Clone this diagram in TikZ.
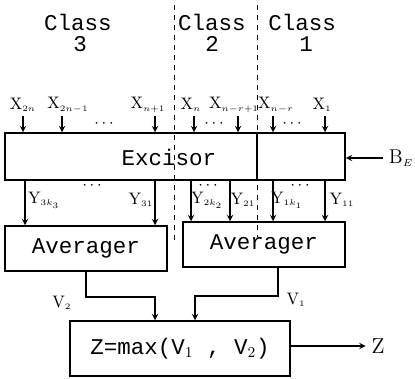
\documentclass[tikz,border=0pt]{standalone}
\usepackage{fontspec}
\setmonofont{Liberation Mono}
\usetikzlibrary{calc}

\begin{document}
\begin{tikzpicture}[x=0.6pt,y=-0.6pt,>=stealth]
\tikzset{
  box/.style={draw, line width=0.9pt, inner sep=0pt},
  word/.style={font=\ttfamily\fontsize{13.5}{14}\selectfont},
  sig/.style={font=\fontsize{10}{10}\selectfont, inner sep=1pt},
  dots/.style={font=\fontsize{10}{10}\selectfont, inner sep=0pt},
  wire/.style={line width=0.7pt},
  cut/.style={dashed, line width=0.6pt}
}
\useasboundingbox (0,0) rectangle (415,379);

% class headings
\node[word] (cls3) at (78,22) {Class};
\node[word] (num3) at (80,44) {3};
\node[word] (cls2) at (212,22) {Class};
\node[word] (num2) at (212,44) {2};
\node[word] (cls1) at (302,22) {Class};
\node[word] (num1) at (306,44) {1};

% boxes
\node[box, minimum width=204pt, minimum height=28.2pt] (exc) at (175,156.5) {};
\node[word] (exctxt) at (169,157) {Excisor};
\node[box, word, minimum width=97.2pt, minimum height=27pt] (avl) at (86,248.5) {Averager};
\node[box, word, minimum width=97.2pt, minimum height=27pt] (avr) at (264,244.5) {Averager};
\node[box, word, minimum width=132pt, minimum height=33pt] (mx) at (180,348.5) {Z=max(V$_1$ ,~V$_2$)};

% class borders
\coordinate (cutl) at (174,5);
\coordinate (cutr) at (257,5);
\draw[cut] (cutl) -- (174,240);
\draw[cut] (cutr) -- (257,237);
\draw[wire] (cutr |- exc.north) -- (cutr |- exc.south);

% inputs
\node[sig] (x2n) at (23,105) {X$_{\scriptscriptstyle 2n}$};
\node[sig] (x2n1) at (68,105) {X$_{\scriptscriptstyle 2n-1}$};
\node[sig] (xn1) at (148,105) {X$_{\scriptscriptstyle n+1}$};
\node[sig] (xn) at (191,105) {X$_{\scriptscriptstyle n}$};
\node[sig] (xnr1) at (234,105) {X$_{\scriptscriptstyle n-r+1}$};
\node[sig] (xnr) at (276,105) {X$_{\scriptscriptstyle n-r}$};
\node[sig] (x1) at (322,105) {X$_{\scriptscriptstyle 1}$};
\coordinate (ia) at (23,116);
\coordinate (ib) at (62,116);
\coordinate (ic) at (155,116);
\coordinate (id) at (194,116);
\coordinate (ie) at (238,116);
\coordinate (if) at (273,116);
\coordinate (ig) at (325,116);
\draw[wire,->] (ia) -- (ia |- exc.north);
\draw[wire,->] (ib) -- (ib |- exc.north);
\draw[wire,->] (ic) -- (ic |- exc.north);
\draw[wire,->] (id) -- (id |- exc.north);
\draw[wire,->] (ie) -- (ie |- exc.north);
\draw[wire,->] (if) -- (if |- exc.north);
\draw[wire,->] (ig) -- (ig |- exc.north);
\node[dots] (dx1) at (104,124) {$\cdots$};
\node[dots] (dx2) at (214,124) {$\cdots$};
\node[dots] (dx3) at (292,124) {$\cdots$};

% excisor outputs
\coordinate (oa) at (25,180);
\coordinate (ob) at (155,180);
\coordinate (oc) at (191,180);
\coordinate (od) at (230,180);
\coordinate (oe) at (273,180);
\coordinate (of) at (325,180);
\draw[wire,->] (oa) -- (oa |- avl.north);
\draw[wire,->] (ob) -- (ob |- avl.north);
\draw[wire,->] (oc) -- (oc |- avr.north);
\draw[wire,->] (od) -- (od |- avr.north);
\draw[wire,->] (oe) -- (oe |- avr.north);
\draw[wire,->] (of) -- (of |- avr.north);
\node[sig] (y3k) at (44,200) {Y$_{\scriptscriptstyle 3k_3}$};
\node[sig] (y31) at (141,200) {Y$_{\scriptscriptstyle 31}$};
\node[sig] (y2k) at (207,200) {Y$_{\scriptscriptstyle 2k_2}$};
\node[sig] (y21) at (243,200) {Y$_{\scriptscriptstyle 21}$};
\node[sig] (y1k) at (287,200) {Y$_{\scriptscriptstyle 1k_1}$};
\node[sig] (y11) at (342,200) {Y$_{\scriptscriptstyle 11}$};
\node[dots] (dy1) at (92,186) {$\cdots$};
\node[dots] (dy2) at (208,186) {$\cdots$};
\node[dots] (dy3) at (300,186) {$\cdots$};

% bias input
\node[font=\fontsize{12}{12}\selectfont] (be) at (401,158) {B$_{\scriptscriptstyle E}$};
\draw[wire,->] (be.west) -- (be.west -| exc.east);

% averages to max
\coordinate (v2k) at (155,297);
\coordinate (v1s) at (278,267);
\coordinate (v1k) at (195,296);
\draw[wire,->] (avl.south) |- (v2k) -- (v2k |- mx.north);
\draw[wire,->] (v1s) |- (v1k) -- (v1k |- mx.north);
\node[sig] (v2) at (62,303) {V$_{\scriptscriptstyle 2}$};
\node[sig] (v1) at (296,300) {V$_{\scriptscriptstyle 1}$};

% output
\node[font=\fontsize{13}{13}\selectfont] (z) at (378,346) {Z};
\draw[wire,->] (mx.east |- z.west) -- (z.west);
\end{tikzpicture}
\end{document}
